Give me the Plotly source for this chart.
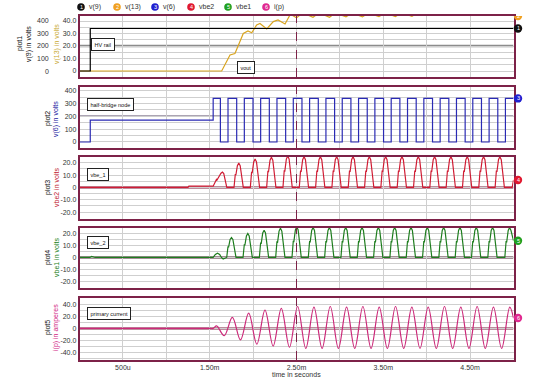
import plotly.graph_objects as go

# ---------------- data (time in ms) ----------------
t_v9 = [0, 0.124, 0.124, 5.0]
v9 = [0, 0, 340, 340]

t_v13 = [0, 1.638, 1.734, 1.791, 1.887, 1.941, 1.984, 2.041, 2.079, 2.157, 2.233, 2.287, 2.368,
         2.43, 2.50, 2.57, 2.69, 2.76, 2.88, 2.95, 3.07, 3.14, 3.26, 3.33, 3.45, 3.52, 3.64, 3.71,
         3.83, 3.90, 4.02, 4.3, 4.6, 5.0]
v13 = [0, 0, 12.8, 14, 30, 32, 30.6, 36.8, 38, 33.6, 39.5, 40.8, 37.6,
       45.5, 42.5, 46.5, 43, 46.5, 43, 46.5, 43.3, 46.5, 43.3, 46.5, 43.5, 46.5, 43.6, 46.5,
       43.8, 46.5, 46, 47, 47, 47]

t_v6 = [0, 0.124, 1.54, 1.623, 1.711, 1.811, 1.899, 1.999, 2.087, 2.187, 2.275, 2.375, 2.463, 2.563,
        2.651, 2.751, 2.839, 2.939, 3.027, 3.127, 3.215, 3.315, 3.403, 3.503, 3.591, 3.691, 3.779,
        3.879, 3.967, 4.067, 4.155, 4.255, 4.343, 4.443, 4.531, 4.631, 4.719, 4.819, 4.907, 5.0]
v6 = [0, 170, 340, 0, 340, 0, 340, 0, 340, 0, 340, 0, 340, 0,
      340, 0, 340, 0, 340, 0, 340, 0, 340, 0, 340, 0, 340,
      0, 340, 0, 340, 0, 340, 0, 340, 0, 340, 0, 340, 340]

t_vbe2 = [0, 1.25, 1.26, 1.54, 1.578, 1.584, 1.630, 1.647, 1.662, 1.697,
          1.780, 1.795, 1.801, 1.819, 1.835, 1.851, 1.887,
          1.968, 1.983, 1.989, 2.007, 2.023, 2.039, 2.075,
          2.156, 2.171, 2.177, 2.195, 2.211, 2.227, 2.263,
          2.344, 2.359, 2.365, 2.383, 2.399, 2.415, 2.451,
          2.532, 2.547, 2.553, 2.571, 2.587, 2.603, 2.639,
          2.720, 2.735, 2.741, 2.759, 2.775, 2.791, 2.827,
          2.908, 2.923, 2.929, 2.947, 2.963, 2.979, 3.015,
          3.096, 3.111, 3.117, 3.135, 3.151, 3.167, 3.203,
          3.284, 3.299, 3.305, 3.323, 3.339, 3.355, 3.391,
          3.472, 3.487, 3.493, 3.511, 3.527, 3.543, 3.579,
          3.660, 3.675, 3.681, 3.699, 3.715, 3.731, 3.767,
          3.848, 3.863, 3.869, 3.887, 3.903, 3.919, 3.955,
          4.036, 4.051, 4.057, 4.075, 4.091, 4.107, 4.143,
          4.224, 4.239, 4.245, 4.263, 4.279, 4.295, 4.331,
          4.412, 4.427, 4.433, 4.451, 4.467, 4.483, 4.519,
          4.600, 4.615, 4.621, 4.639, 4.655, 4.671, 4.707,
          4.788, 4.803, 4.809, 4.827, 4.843, 4.859, 4.895,
          4.985, 5.0]
vbe2 = [0, 0, 1.0, 1.0, 6.5, 6.0, 11.5, 12.4, 11.3, 0,
        0, 10.8, 9.9, 17.7, 19.7, 17.7, 0,
        0, 12.7, 11.5, 20.7, 23.0, 20.7, 0,
        0, 13.5, 12.3, 22.1, 24.5, 22.1, 0,
        0, 14.0, 12.8, 23.0, 25.5, 23.0, 0,
        0, 13.8, 12.5, 22.5, 25, 22.5, 0,
        0, 13.8, 12.5, 22.5, 25, 22.5, 0,
        0, 13.8, 12.5, 22.5, 25, 22.5, 0,
        0, 13.8, 12.5, 22.5, 25, 22.5, 0,
        0, 13.8, 12.5, 22.5, 25, 22.5, 0,
        0, 13.8, 12.5, 22.5, 25, 22.5, 0,
        0, 13.8, 12.5, 22.5, 25, 22.5, 0,
        0, 13.8, 12.5, 22.5, 25, 22.5, 0,
        0, 13.8, 12.5, 22.5, 25, 22.5, 0,
        0, 13.8, 12.5, 22.5, 25, 22.5, 0,
        0, 13.8, 12.5, 22.5, 25, 22.5, 0,
        0, 13.8, 12.5, 22.5, 25, 22.5, 0,
        0, 13.8, 12.5, 22.5, 25, 22.5, 0,
        0, 6]

t_vbe1 = [0, 0.12, 0.14, 0.18, 1.54, 1.565, 1.59, 1.615, 1.635, 1.655,
          1.696, 1.711, 1.717, 1.735, 1.751, 1.767, 1.803,
          1.884, 1.899, 1.905, 1.923, 1.939, 1.955, 1.991,
          2.072, 2.087, 2.093, 2.111, 2.127, 2.143, 2.179,
          2.260, 2.275, 2.281, 2.299, 2.315, 2.331, 2.367,
          2.448, 2.463, 2.469, 2.487, 2.503, 2.519, 2.555,
          2.636, 2.651, 2.657, 2.675, 2.691, 2.707, 2.743,
          2.824, 2.839, 2.845, 2.863, 2.879, 2.895, 2.931,
          3.012, 3.027, 3.033, 3.051, 3.067, 3.083, 3.119,
          3.200, 3.215, 3.221, 3.239, 3.255, 3.271, 3.307,
          3.388, 3.403, 3.409, 3.427, 3.443, 3.459, 3.495,
          3.576, 3.591, 3.597, 3.615, 3.631, 3.647, 3.683,
          3.764, 3.779, 3.785, 3.803, 3.819, 3.835, 3.871,
          3.952, 3.967, 3.973, 3.991, 4.007, 4.023, 4.059,
          4.140, 4.155, 4.161, 4.179, 4.195, 4.211, 4.247,
          4.328, 4.343, 4.349, 4.367, 4.383, 4.399, 4.435,
          4.516, 4.531, 4.537, 4.555, 4.571, 4.587, 4.623,
          4.704, 4.719, 4.725, 4.743, 4.759, 4.775, 4.811,
          4.900, 4.915, 4.921, 4.939, 4.955, 4.971, 5.0]
vbe1 = [0, 0, 0.8, 0, 0, 2.5, 3.5, 2.5, 0, -1.3,
        0, 9.2, 8.4, 15.0, 16.7, 15.0, 0,
        0, 11.0, 10.0, 18.0, 20.0, 18.0, 0,
        0, 12.5, 11.4, 20.5, 22.8, 20.5, 0,
        0, 13.4, 12.2, 22.0, 24.4, 22.0, 0,
        0, 14.0, 12.8, 23.0, 25.5, 23.0, 0,
        0, 13.8, 12.5, 22.5, 25, 22.5, 0,
        0, 13.8, 12.5, 22.5, 25, 22.5, 0,
        0, 13.8, 12.5, 22.5, 25, 22.5, 0,
        0, 13.8, 12.5, 22.5, 25, 22.5, 0,
        0, 13.8, 12.5, 22.5, 25, 22.5, 0,
        0, 13.8, 12.5, 22.5, 25, 22.5, 0,
        0, 13.8, 12.5, 22.5, 25, 22.5, 0,
        0, 13.8, 12.5, 22.5, 25, 22.5, 0,
        0, 13.8, 12.5, 22.5, 25, 22.5, 0,
        0, 13.8, 12.5, 22.5, 25, 22.5, 0,
        0, 13.8, 12.5, 22.5, 25, 22.5, 0,
        0, 13.8, 12.5, 22.5, 25, 22.5, 0,
        0, 13.8, 12.5, 22.5, 25, 22.5, 14]

t_ip = [0, 1.50, 1.54, 1.58, 1.667, 1.761, 1.855, 1.949, 2.043, 2.137, 2.231, 2.325, 2.419,
        2.513, 2.607, 2.701, 2.795, 2.889, 2.983, 3.077, 3.171, 3.265, 3.359, 3.453, 3.547,
        3.641, 3.735, 3.829, 3.923, 4.017, 4.111, 4.205, 4.299, 4.393, 4.487, 4.581, 4.675,
        4.769, 4.863, 4.957, 5.0]
ip = [0, 0, 0, 4, -12, 18, -19, 25, -26, 30, -29, 33, -31,
      36, -33, 35, -33, 36, -33, 35, -33, 36, -33, 35, -33,
      36, -33, 35, -33, 35, -33, 36, -33, 35, -33, 36, -33,
      35, -33, 35, 17]

# tick values / labels
x_ticks = [0.5, 1.0, 1.5, 2.0, 2.5, 3.0, 3.5, 4.0, 4.5]
x_labels = ["500u", "", "1.50m", "", "2.50m", "", "3.50m", "", "4.50m"]
y1_ticks = [0, 5, 10, 15, 20, 25, 30, 35, 40]
y1_labels = ["0", "", "10.0", "", "20.0", "", "30.0", "", "40.0"]
y1b_ticks = [0, 100, 200, 300, 400]
y1b_labels = ["0", "100", "200", "300", "400"]
y2_ticks = [0, 50, 100, 150, 200, 250, 300, 350, 400]
y2_labels = ["0", "", "100", "", "200", "", "300", "", "400"]
y34_ticks = [-25, -20, -15, -10, -5, 0, 5, 10, 15, 20]
y34_labels = ["", "-20.0", "", "-10.0", "", "0", "", "10.0", "", "20.0"]
y5_ticks = [-50, -40, -30, -20, -10, 0, 10, 20, 30, 40]
y5_labels = ["", "-40.0", "", "-20.0", "", "0", "", "20.0", "", "40.0"]

series_names = ["v(9)", "v(13)", "v(6)", "vbe2", "vbe1", "i(p)"]

# ---------------- styling ----------------
FONT = "Liberation Sans, Arial, sans-serif"
W, H = 540, 383
MAROON = "#7d2248"
GRID = "#cfcfcf"
TICKC = "#333"
C_V9, C_V13, C_V6, C_VBE2, C_VBE1, C_IP = "#000000", "#d9a521", "#2a2ab4", "#d01c34", "#1e7d1e", "#cc2a7a"
DOT = ["#111111", "#f0a020", "#2020d0", "#e01830", "#20a020", "#e02890"]


def px(x):
    return x / W


def py(y):
    return 1 - y / H


rows = [(16, 77), (87, 148), (157, 219), (228, 288), (298, 360)]
xdom = [px(79.5), px(513.5)]

fig = go.Figure()
lw = 1.2
fig.add_trace(go.Scatter(x=t_v13, y=v13, xaxis="x", yaxis="y", mode="lines",
                         line=dict(color=C_V13, width=lw)))
fig.add_trace(go.Scatter(x=t_v9, y=v9, xaxis="x", yaxis="y6", mode="lines",
                         line=dict(color=C_V9, width=lw)))
fig.add_trace(go.Scatter(x=t_v6, y=v6, xaxis="x2", yaxis="y2", mode="lines",
                         line=dict(color=C_V6, width=lw, shape="hv")))
fig.add_trace(go.Scatter(x=t_vbe2, y=vbe2, xaxis="x3", yaxis="y3", mode="lines",
                         line=dict(color=C_VBE2, width=lw)))
fig.add_trace(go.Scatter(x=t_vbe1, y=vbe1, xaxis="x4", yaxis="y4", mode="lines",
                         line=dict(color=C_VBE1, width=lw)))
fig.add_trace(go.Scatter(x=t_ip, y=ip, xaxis="x5", yaxis="y5", mode="lines",
                         line=dict(color=C_IP, width=lw, shape="spline")))

yranges = [[-4.8, 44], [-47, 429], [-25.6, 24.7], [-25.5, 24.6], [-52, 50]]
y6range = [-48, 440]
yticks = [(y1_ticks, y1_labels), (y2_ticks, y2_labels), (y34_ticks, y34_labels),
          (y34_ticks, y34_labels), (y5_ticks, y5_labels)]

layout = dict(width=W, height=H, margin=dict(l=0, r=0, t=0, b=0), showlegend=False,
              paper_bgcolor="white", plot_bgcolor="white", font=dict(family=FONT, size=7, color=TICKC))
tickfont = dict(family=FONT, size=7, color=TICKC)
for i, (top, bot) in enumerate(rows):
    n = "" if i == 0 else str(i + 1)
    layout["xaxis" + n] = dict(domain=xdom, anchor="y" + n, range=[0, 5], tickmode="array",
                               tickvals=x_ticks, ticktext=x_labels, showticklabels=(i == 4),
                               showgrid=True, gridcolor=GRID, gridwidth=1, zeroline=False,
                               showline=True, mirror=True, linecolor=MAROON, linewidth=1.5,
                               ticks="", tickfont=tickfont)
    tv, tl = yticks[i]
    layout["yaxis" + n] = dict(domain=[py(bot), py(top)], anchor="x" + n, range=yranges[i],
                               tickmode="array", tickvals=tv, ticktext=tl, showgrid=True,
                               gridcolor=GRID, gridwidth=1, zeroline=False, showline=True,
                               mirror=True, linecolor=MAROON, linewidth=1.5, ticks="",
                               tickfont=tickfont)
layout["yaxis6"] = dict(overlaying="y", side="left", range=y6range, showticklabels=False,
                        showgrid=False, zeroline=False, showline=False, ticks="")
fig.update_layout(**layout)

shapes = []
ann = []
# centre lines
centre = [("", 20, "#8c8c8c", 2.5), ("2", 200, "#5a4a6a", 1.5), ("3", 0, "#7a1d3c", 2),
          ("4", 0, "#4a2030", 2), ("5", 0, "#7a1d3c", 2)]
for n, val, col, w in centre:
    shapes.append(dict(type="line", xref="x" + n, x0=0, x1=5, yref="y" + n,
                       y0=val, y1=val, line=dict(color=col, width=w), layer="below"))
# cursor at 2.5 ms
for n in ["", "2", "3", "4", "5"]:
    shapes.append(dict(type="line", xref="x" + n, x0=2.5, x1=2.5, yref="y" + n + " domain",
                       y0=0, y1=1, line=dict(color=MAROON, width=1, dash="dash")))
# legend dots
leg_x = [81, 117, 155, 191, 228, 266]
for i, cx in enumerate(leg_x):
    shapes.append(dict(type="circle", xref="paper", yref="paper", x0=px(cx - 3.8), x1=px(cx + 3.8),
                       y0=py(7 + 3.8), y1=py(7 - 3.8), fillcolor=DOT[i], line=dict(width=0)))
    ann.append(dict(x=px(cx), y=py(7), xref="paper", yref="paper", text=str(i + 1), showarrow=False,
                    font=dict(size=5.5, color="white", family=FONT), xanchor="center", yanchor="middle"))
    ann.append(dict(x=px(cx + 6), y=py(7), xref="paper", yref="paper", text=series_names[i],
                    showarrow=False, font=dict(size=7, color=TICKC, family=FONT),
                    xanchor="left", yanchor="middle"))

# end-of-trace numbered markers (placed at each trace's last value on its own y scale)
ends = [(v9, "y6", y6range, 0), (v13, "y", yranges[0], 1), (v6, "y2", yranges[1], 2),
        (vbe2, "y3", yranges[2], 3), (vbe1, "y4", yranges[3], 4), (ip, "y5", yranges[4], 5)]
mx = 518
for vv, ya, rg, i in ends:
    yv = min(max(vv[-1], rg[0]), rg[1])
    shapes.append(dict(type="circle", xref="paper", x0=px(mx - 4.2), x1=px(mx + 4.2),
                       yref=ya, ysizemode="pixel", yanchor=yv, y0=-4.2, y1=4.2,
                       fillcolor=DOT[i], line=dict(width=0)))
    ann.append(dict(x=px(mx), y=yv, xref="paper", yref=ya, text=str(i + 1), showarrow=False,
                    font=dict(size=5.5, color="white", family=FONT), xanchor="center", yanchor="middle"))
fig.update_layout(shapes=shapes)

# second tick-label column of plot1 (v(9) scale)
for v, lab in zip(y1b_ticks, y1b_labels):
    ann.append(dict(x=px(51), y=v, xref="paper", yref="y6", text=lab, showarrow=False,
                    font=tickfont, xanchor="right", yanchor="middle"))

titles = [(20, 44, "plot1", "#111"), (29, 44, "v(9) in volts", "#111"), (57, 44, "v(13) in volts", "#c8a830"),
          (48, 119, "plot2", "#111"), (56, 119, "v(6) in volts", "#2020a0"),
          (48, 188, "plot3", "#111"), (56, 188, "vbe2 in volts", "#c02030"),
          (48, 258, "plot4", "#111"), (56, 258, "vbe1 in volts", "#208020"),
          (48, 328, "plot5", "#111"), (56, 328, "i(p) in amperes", "#d02080")]
for x, y, txt, col in titles:
    ann.append(dict(x=px(x), y=py(y), xref="paper", yref="paper", text=txt, showarrow=False,
                    textangle=-90, font=dict(size=7, color=col, family=FONT),
                    xanchor="center", yanchor="middle"))

boxes = [(103, 44.5, "HV rail"), (245.5, 67.5, "vout"), (110.5, 104.5, "half-bridge node"),
         (98, 175, "vbe_1"), (98, 242.5, "vbe_2"), (109, 313.5, "primary current")]
for x, y, txt in boxes:
    ann.append(dict(x=px(x), y=py(y), xref="paper", yref="paper", text=txt, showarrow=False,
                    font=dict(size=5.5, color="#111", family=FONT), bgcolor="white",
                    bordercolor="#222", borderwidth=1, borderpad=2.5,
                    xanchor="center", yanchor="middle"))

ann.append(dict(x=px(296), y=py(374), xref="paper", yref="paper", text="time in seconds",
                showarrow=False, font=dict(size=7, color=TICKC, family=FONT),
                xanchor="center", yanchor="middle"))
fig.update_layout(annotations=ann)

fig.write_html("out.html", config={"displayModeBar": False},
               post_script="document.body.style.margin='0';document.body.style.padding='0';")
